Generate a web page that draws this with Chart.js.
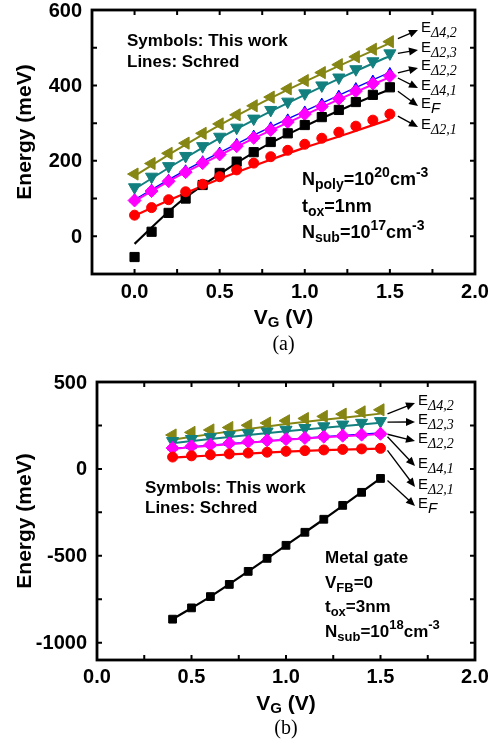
<!DOCTYPE html>
<html>
<head>
<meta charset="utf-8">
<script src="https://cdn.jsdelivr.net/npm/chart.js@4.4.0/dist/chart.umd.min.js"></script>
<style>
  html, body { margin: 0; padding: 0; background: #fff; }
  #wrap { position: relative; width: 489px; height: 745px; }
  canvas { position: absolute; left: 0; }
  #chartA { top: 0; }
  #chartB { top: 365px; }
</style>
</head>
<body>
<div id="wrap">
  <canvas id="chartA" width="489" height="365"></canvas>
  <canvas id="chartB" width="489" height="380"></canvas>
</div>
<script>
// ---------- (a) poly gate : symbols (this work) ----------
const vgA = [0.0, 0.1, 0.2, 0.3, 0.4, 0.5, 0.6, 0.7, 0.8, 0.9, 1.0, 1.1, 1.2, 1.3, 1.4, 1.5];
const eD42A = [165, 193, 220, 247, 273, 298, 322, 346, 369, 391, 413, 434, 455, 476, 496, 516];
const eD23A = [130, 158, 186, 213, 239, 264, 288, 312, 335, 357, 379, 400, 421, 443, 464, 485];
const eD22A = [98, 124, 150, 175, 199, 222, 245, 267, 289, 310, 331, 352, 373, 393, 413, 433];
const eD41A = [95, 120, 146, 170, 194, 217, 239, 261, 282, 303, 324, 344, 365, 385, 405, 425];
const eFA   = [-55, 12, 62, 100, 136, 168, 198, 223, 250, 273, 295, 316, 335, 356, 375, 395];
const eD21A = [56, 76, 97, 118, 138, 158, 176, 194, 211, 228, 244, 260, 276, 292, 308, 324];

// (a) lines (Schred)
const vgLineA = [0.0, 0.25, 0.5, 0.75, 1.0, 1.25, 1.5];
const sD42A = [160, 230, 295, 355, 410, 462, 512];
const sD23A = [125, 195, 260, 320, 375, 428, 478];
const sD22A = [97, 163, 222, 279, 332, 384, 435];
const sD41A = [93, 158, 215, 270, 322, 373, 422];
const sFA   = [-20, 85, 165, 235, 292, 343, 390];
const sD21A = [55, 105, 152, 195, 235, 272, 310];

// ---------- (b) metal gate : symbols (this work) ----------
const vgB = [0.4, 0.5, 0.6, 0.7, 0.8, 0.9, 1.0, 1.1, 1.2, 1.3, 1.4, 1.5];
const eD42B = [195, 210, 224, 238, 251, 264, 277, 290, 302, 315, 328, 340];
const eD23B = [160, 172, 183, 194, 205, 215, 225, 235, 245, 255, 265, 275];
const eD22B = [124, 133, 142, 151, 159, 167, 174, 181, 188, 194, 200, 205];
const eD41B = [120, 130, 139, 148, 156, 164, 171, 178, 185, 191, 197, 202];
const eFB   = [-865, -800, -735, -665, -590, -515, -440, -365, -290, -210, -135, -55];
const eD21B = [68, 75, 81, 86, 91, 96, 101, 105, 109, 112, 115, 118];

// (b) lines (Schred)
const vgLineB = [0.4, 0.6, 0.8, 1.0, 1.2, 1.5];
const sD42B = [168, 200, 230, 258, 283, 318];
const sD23B = [148, 172, 195, 216, 236, 265];
const sD22B = [118, 136, 153, 170, 186, 207];
const sD41B = [115, 133, 150, 167, 182, 200];
const sFB   = [-865, -735, -590, -440, -290, -55];
const sD21B = [65, 77, 88, 99, 108, 117];

// axis ranges / ticks
const xRangeA = [-0.25, 2.0], yRangeA = [-100, 600];
const xRangeB = [0.0, 2.0],  yRangeB = [-1100, 500];

const OLIVE = '#868614', TEAL = '#12807f', BLUE = '#0000ff', MAGENTA = '#ff00ff', BLACK = '#000000', RED = '#ff0000';
const SANS = '"Liberation Sans", Arial, sans-serif';
const SERIF = '"Liberation Serif", "Times New Roman", serif';

function pts(xs, ys) { return xs.map((x, i) => ({x: x, y: ys[i]})); }

function markers(xs, ys, color, style, rot, r) {
    return {
        data: pts(xs, ys), showLine: false, order: 1,
        pointStyle: style, pointRotation: rot, pointRadius: r,
        pointBackgroundColor: color, pointBorderColor: color, pointBorderWidth: 1
    };
}

function curve(xs, ys, color, w) {
    return {
        data: pts(xs, ys), showLine: true, order: 2, pointRadius: 0,
        borderColor: color, borderWidth: w, cubicInterpolationMode: 'monotone', fill: false
    };
}

function richText(ctx, x, y, parts, big, small) {
    let cx = x;
    ctx.textBaseline = 'middle';
    ctx.textAlign = 'left';
    for (const p of parts) {
        const kind = p[1] || '';
        ctx.font = p[2] || (kind ? small : big);
        const dy = kind === 'sub' ? 5 : (kind === 'sup' ? -7 : 0);
        ctx.fillText(p[0], cx, y + dy);
        cx += ctx.measureText(p[0]).width;
    }
    return cx - x;
}

function arrow(ctx, x1, y1, x2, y2) {
    const a = Math.atan2(y2 - y1, x2 - x1), L = 9, W = 4;
    ctx.beginPath();
    ctx.moveTo(x1, y1);
    ctx.lineTo(x2 - L * 0.8 * Math.cos(a), y2 - L * 0.8 * Math.sin(a));
    ctx.stroke();
    ctx.beginPath();
    ctx.moveTo(x2, y2);
    ctx.lineTo(x2 - L * Math.cos(a) + W * Math.sin(a), y2 - L * Math.sin(a) - W * Math.cos(a));
    ctx.lineTo(x2 - L * Math.cos(a) - W * Math.sin(a), y2 - L * Math.sin(a) + W * Math.cos(a));
    ctx.closePath();
    ctx.fill();
}

// frame, inward ticks, tick labels, titles and annotations
const deco = {
    id: 'deco',
    afterDraw(chart, args, o) {
        const ctx = chart.ctx, ca = chart.chartArea;
        const xs = chart.scales.x, ys = chart.scales.y;
        ctx.save();
        ctx.strokeStyle = '#000';
        ctx.fillStyle = '#000';
        // inward ticks on all four sides + labels
        ctx.lineWidth = 2;
        const tl = 5;
        ctx.font = 'bold 20px ' + SANS;
        xs.ticks.forEach(t => {
            const p = xs.getPixelForValue(t.value);
            if (t.label) {
                ctx.textAlign = 'center'; ctx.textBaseline = 'middle';
                ctx.fillText(t.label, p, ca.bottom + o.xLabelDy);
            }
            if (t.value <= xs.min + 1e-9 || t.value >= xs.max - 1e-9) return;
            ctx.beginPath();
            ctx.moveTo(p, ca.bottom); ctx.lineTo(p, ca.bottom - tl);
            ctx.moveTo(p, ca.top); ctx.lineTo(p, ca.top + tl);
            ctx.stroke();
        });
        ys.ticks.forEach(t => {
            const p = ys.getPixelForValue(t.value);
            if (t.label) {
                ctx.textAlign = 'right'; ctx.textBaseline = 'middle';
                ctx.fillText(t.label, ca.left - 10, p + 1);
            }
            if (t.value <= ys.min + 1e-9 || t.value >= ys.max - 1e-9) return;
            ctx.beginPath();
            ctx.moveTo(ca.left, p); ctx.lineTo(ca.left + tl, p);
            ctx.moveTo(ca.right, p); ctx.lineTo(ca.right - tl, p);
            ctx.stroke();
        });
        // frame
        ctx.lineWidth = 2.8;
        ctx.strokeRect(ca.left, ca.top, ca.right - ca.left, ca.bottom - ca.top);

        // y title
        ctx.save();
        ctx.translate(o.yTitleX, o.yTitleY);
        ctx.rotate(-Math.PI / 2);
        ctx.font = 'bold 21px ' + SANS;
        ctx.textAlign = 'center';
        ctx.textBaseline = 'middle';
        ctx.fillText('Energy (meV)', 0, 0);
        ctx.restore();

        // x title V_G (V)
        const big = 'bold 21px ' + SANS, small = 'bold 15px ' + SANS;
        const xtParts = [['V'], ['G', 'sub'], [' (V)']];
        let w = 0;
        xtParts.forEach(p => { ctx.font = p[1] ? small : big; w += ctx.measureText(p[0]).width; });
        richText(ctx, (ca.left + ca.right) / 2 - w / 2, o.xTitleY, xtParts, big, small);

        // caption
        ctx.font = '20px ' + SERIF;
        ctx.textAlign = 'center';
        ctx.textBaseline = 'middle';
        ctx.fillText(o.caption, (ca.left + ca.right) / 2, o.captionY);

        // notes
        o.notes.forEach(n => richText(ctx, n.x, n.y, n.parts, n.big, n.small));

        // series labels with arrows
        ctx.lineWidth = 1.3;
        o.tags.forEach(t => {
            const last = t.vals[t.vals.length - 1];
            const x1 = xs.getPixelForValue(o.lastX) + t.dx;
            const y1 = ys.getPixelForValue(last) + t.dy;
            arrow(ctx, x1, y1, o.tagX - 3, t.y);
            const parts = [['E', '', '15px ' + SANS]];
            if (t.f) parts.push([t.sub, 'sub', 'italic 15px ' + SANS]);
            else parts.push([t.sub, 'sub', 'italic 14px ' + SERIF]);
            richText(ctx, o.tagX, t.y - 2, parts, '', '');
        });
        ctx.restore();
    }
};

function scaleOpts(range, step, labelFn, fixFn) {
    return {
        type: 'linear', min: range[0], max: range[1],
        grid: { display: false, drawTicks: false },
        border: { display: false },
        ticks: {
            display: false, includeBounds: false,
            stepSize: step, autoSkip: false, maxRotation: 0,
            callback: labelFn
        },
        afterFit: fixFn
    };
}

const halfLabel = v => (Math.abs(v * 2 - Math.round(v * 2)) < 1e-6 ? v.toFixed(1) : '');

const noteBig = 'bold 17px ' + SANS, noteSmall = 'bold 13px ' + SANS;
const parBig = 'bold 18px ' + SANS, parSmall = 'bold 14px ' + SANS;

new Chart(document.getElementById('chartA'), {
    type: 'scatter',
    data: {
        datasets: [
            markers(vgA, eD21A, RED, 'circle', 0, 5),
            markers(vgA, eFA, BLACK, 'rect', 0, 6.5),
            markers(vgA, eD41A, MAGENTA, 'rectRot', 0, 6.5),
            markers(vgA, eD22A, BLUE, 'triangle', 0, 5.5),
            markers(vgA, eD23A, TEAL, 'triangle', 180, 7),
            markers(vgA, eD42A, OLIVE, 'triangle', -90, 7),
            curve(vgLineA, sD21A, RED, 2.2),
            curve(vgLineA, sFA, BLACK, 2.2),
            curve(vgLineA, sD41A, MAGENTA, 2),
            curve(vgLineA, sD22A, BLUE, 1.3),
            curve(vgLineA, sD23A, TEAL, 2),
            curve(vgLineA, sD42A, OLIVE, 2)
        ]
    },
    options: {
        responsive: false, animation: false,
        layout: { padding: { left: 0, right: 14, top: 10, bottom: 0 } },
        plugins: {
            legend: { display: false }, tooltip: { enabled: false },
            deco: {
                xLabelDy: 18,
                yTitleX: 25, yTitleY: 132, xTitleY: 318, caption: '(a)', captionY: 345,
                lastX: 1.5, tagX: 421,
                notes: [
                    { x: 127, y: 41, parts: [['Symbols: This work']], big: noteBig, small: noteSmall },
                    { x: 127, y: 62, parts: [['Lines: Schred']], big: noteBig, small: noteSmall },
                    { x: 302, y: 180, parts: [['N'], ['poly', 'sub'], ['=10'], ['20', 'sup'], ['cm'], ['-3', 'sup']], big: parBig, small: parSmall },
                    { x: 302, y: 207, parts: [['t'], ['ox', 'sub'], ['=1nm']], big: parBig, small: parSmall },
                    { x: 302, y: 233, parts: [['N'], ['sub', 'sub'], ['=10'], ['17', 'sup'], ['cm'], ['-3', 'sup']], big: parBig, small: parSmall }
                ],
                tags: [
                    { sub: '\u03944,2', vals: eD42A, y: 30, dx: 8, dy: -3 },
                    { sub: '\u03942,3', vals: eD23A, y: 50, dx: 8, dy: 0 },
                    { sub: '\u03942,2', vals: eD22A, y: 68, dx: 8, dy: 0 },
                    { sub: '\u03944,1', vals: eD41A, y: 88, dx: 8, dy: 2 },
                    { sub: 'F', f: true, vals: eFA, y: 106, dx: 8, dy: 4 },
                    { sub: '\u03942,1', vals: eD21A, y: 127, dx: 8, dy: 2 }
                ]
            }
        },
        scales: {
            x: scaleOpts(xRangeA, 0.25, halfLabel, s => { s.height = 91; }),
            y: scaleOpts(yRangeA, 100, v => (v % 200 === 0 ? String(v) : ''), s => { s.width = 92; })
        }
    },
    plugins: [deco]
});

new Chart(document.getElementById('chartB'), {
    type: 'scatter',
    data: {
        datasets: [
            markers(vgB, eFB, BLACK, 'rect', 0, 5.5),
            markers(vgB, eD21B, RED, 'circle', 0, 5),
            markers(vgB, eD41B, MAGENTA, 'rectRot', 0, 6.5),
            markers(vgB, eD22B, BLUE, 'triangle', 0, 5.5),
            markers(vgB, eD23B, TEAL, 'triangle', 180, 7),
            markers(vgB, eD42B, OLIVE, 'triangle', -90, 7),
            curve(vgLineB, sFB, BLACK, 2.2),
            curve(vgLineB, sD21B, RED, 2.2),
            curve(vgLineB, sD41B, MAGENTA, 2),
            curve(vgLineB, sD22B, BLUE, 1.3),
            curve(vgLineB, sD23B, TEAL, 2),
            curve(vgLineB, sD42B, OLIVE, 2)
        ]
    },
    options: {
        responsive: false, animation: false,
        layout: { padding: { left: 0, right: 14, top: 17, bottom: 0 } },
        plugins: {
            legend: { display: false }, tooltip: { enabled: false },
            deco: {
                xLabelDy: 17,
                yTitleX: 25, yTitleY: 156, xTitleY: 339, caption: '(b)', captionY: 364,
                lastX: 1.5, tagX: 418,
                notes: [
                    { x: 145, y: 123, parts: [['Symbols: This work']], big: noteBig, small: noteSmall },
                    { x: 145, y: 143, parts: [['Lines: Schred']], big: noteBig, small: noteSmall },
                    { x: 325, y: 193, parts: [['Metal gate']], big: noteBig, small: noteSmall },
                    { x: 325, y: 218, parts: [['V'], ['FB', 'sub'], ['=0']], big: noteBig, small: noteSmall },
                    { x: 325, y: 242, parts: [['t'], ['ox', 'sub'], ['=3nm']], big: noteBig, small: noteSmall },
                    { x: 325, y: 267, parts: [['N'], ['sub', 'sub'], ['=10'], ['18', 'sup'], ['cm'], ['-3', 'sup']], big: noteBig, small: noteSmall }
                ],
                tags: [
                    { sub: '\u03944,2', vals: eD42B, y: 38, dx: 7, dy: 4 },
                    { sub: '\u03942,3', vals: eD23B, y: 57, dx: 7, dy: 1 },
                    { sub: '\u03942,2', vals: eD22B, y: 76, dx: 7, dy: 1 },
                    { sub: '\u03944,1', vals: eD41B, y: 101, dx: 7, dy: 3 },
                    { sub: '\u03942,1', vals: eD21B, y: 122, dx: 7, dy: 2 },
                    { sub: 'F', f: true, vals: eFB, y: 141, dx: 7, dy: 2 }
                ]
            }
        },
        scales: {
            x: scaleOpts(xRangeB, 0.25, halfLabel, s => { s.height = 85; }),
            y: scaleOpts(yRangeB, 250, v => (v % 500 === 0 ? String(v) : ''), s => { s.width = 97; })
        }
    },
    plugins: [deco]
});
</script>
</body>
</html>
